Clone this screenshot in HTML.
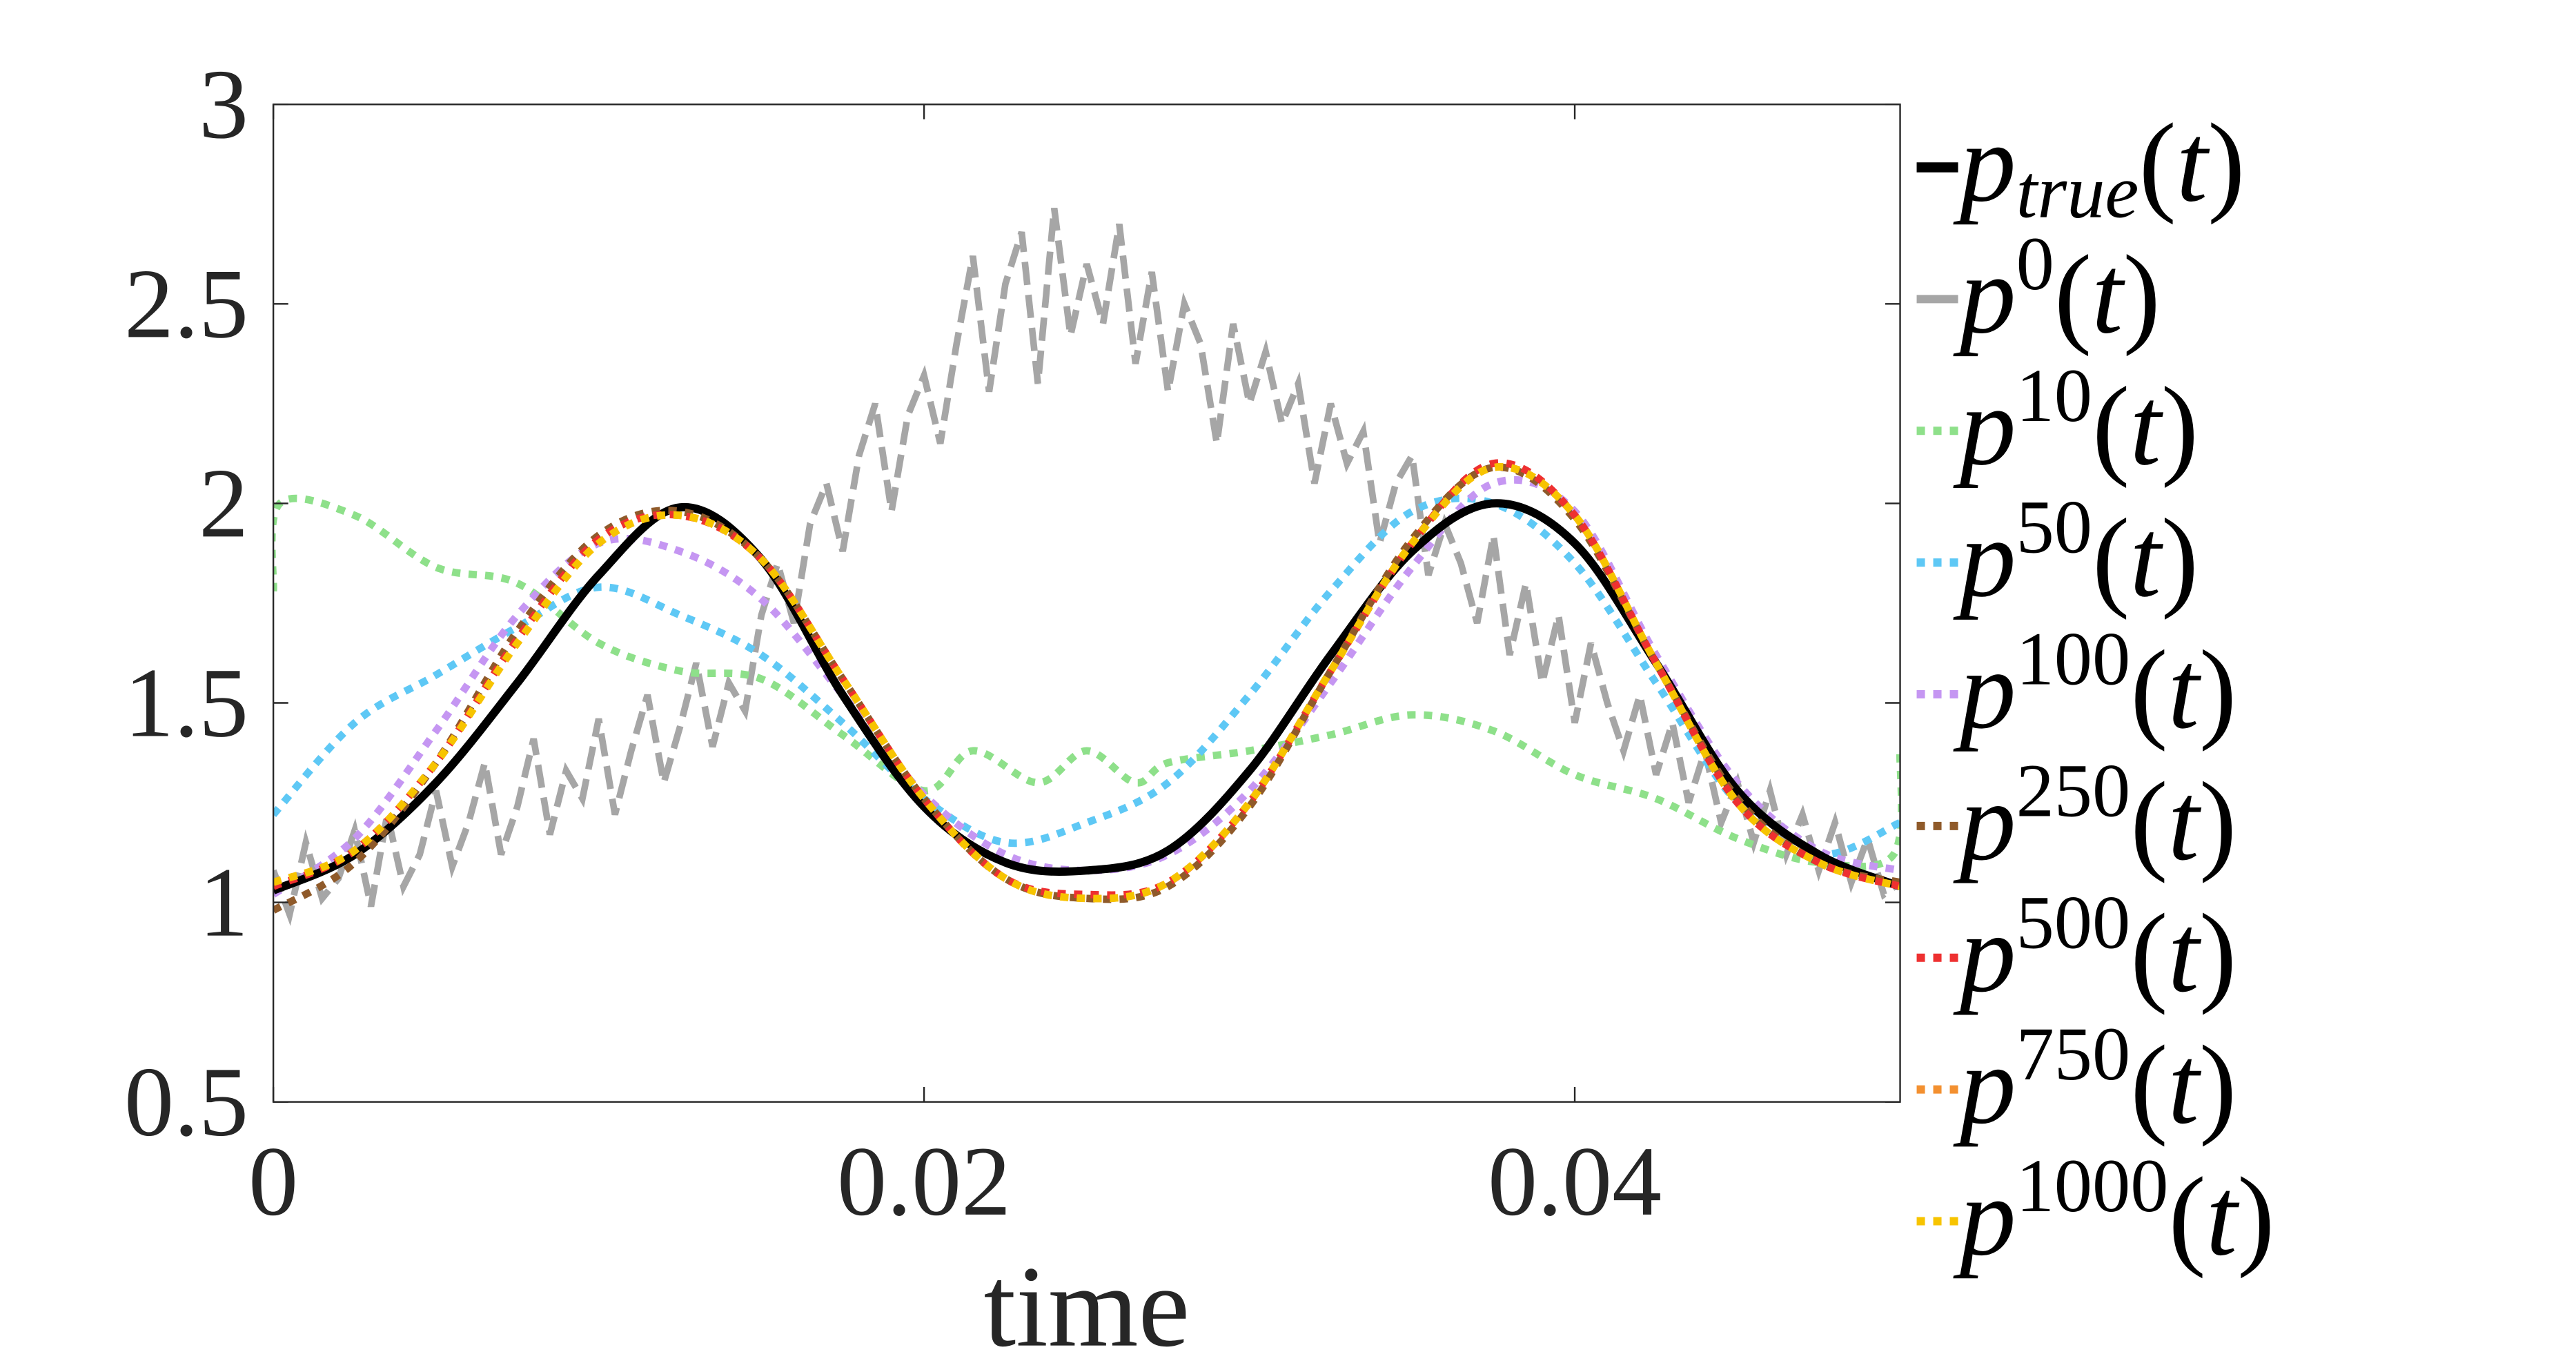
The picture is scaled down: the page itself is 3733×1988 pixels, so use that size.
<!DOCTYPE html>
<html><head><meta charset="utf-8"><style>
html,body{margin:0;padding:0;background:#fff;}
svg{display:block;}
text{font-family:"Liberation Serif",serif;fill:#262626;}
</style></head><body>
<svg id="chart" width="3733" height="1988" viewBox="0 0 1555 828" preserveAspectRatio="none" xmlns="http://www.w3.org/2000/svg">
<g id="plot"></g>
<g id="axes"></g>
<g id="legend"></g>
</svg>
<script>
const xTicks=[0,0.02,0.04];
const xTickLabels=["0","0.02","0.04"];
const yTicks=[0.5,1,1.5,2,2.5,3];
const yTickLabels=["0.5","1","1.5","2","2.5","3"];
const tSmooth=[0,0.0025,0.005,0.0075,0.01,0.0125,0.015,0.0175,0.02,0.0225,0.025,0.0275,0.03,0.0325,0.035,0.0375,0.04,0.0425,0.045,0.0475,0.05];
const pTrue=[1.03,1.12,1.30,1.55,1.82,1.99,1.86,1.52,1.24,1.10,1.08,1.13,1.33,1.62,1.88,2.0,1.90,1.60,1.28,1.12,1.04];
const p1000=[1.05,1.13,1.35,1.65,1.90,1.97,1.86,1.56,1.26,1.06,1.01,1.05,1.25,1.58,1.90,2.09,1.97,1.60,1.25,1.10,1.04];
const p750=[1.05,1.13,1.35,1.65,1.90,1.97,1.86,1.56,1.26,1.06,1.01,1.05,1.25,1.58,1.90,2.09,1.97,1.60,1.25,1.10,1.04];
const p500=[1.04,1.13,1.35,1.66,1.91,1.97,1.86,1.56,1.26,1.06,1.02,1.05,1.25,1.58,1.90,2.10,1.97,1.60,1.25,1.10,1.04];
const p250=[0.98,1.10,1.35,1.68,1.92,1.98,1.86,1.56,1.26,1.06,1.01,1.04,1.24,1.58,1.91,2.09,1.96,1.60,1.26,1.10,1.05];
const p100=[1.02,1.16,1.43,1.72,1.90,1.88,1.76,1.52,1.27,1.12,1.08,1.12,1.28,1.55,1.84,2.05,1.98,1.62,1.30,1.13,1.08];
const p50=[1.22,1.45,1.57,1.69,1.79,1.72,1.62,1.45,1.26,1.15,1.20,1.30,1.52,1.78,1.98,2.00,1.85,1.55,1.25,1.12,1.20];
const t10=[0,0.0002,0.0025,0.005,0.0075,0.01,0.0125,0.015,0.0175,0.02,0.0215,0.0235,0.025,0.0265,0.0275,0.03,0.0325,0.035,0.0375,0.04,0.0425,0.045,0.0475,0.0498,0.05];
const p10=[1.78,2.0,1.97,1.84,1.80,1.65,1.58,1.56,1.42,1.28,1.38,1.30,1.38,1.30,1.35,1.38,1.42,1.47,1.43,1.32,1.26,1.16,1.10,1.12,1.38];
const p0=[1.08,0.97,1.15,1.01,1.06,1.18,0.99,1.22,1.04,1.12,1.28,1.09,1.20,1.35,1.12,1.24,1.41,1.17,1.33,1.26,1.46,1.22,1.38,1.52,1.30,1.44,1.60,1.39,1.55,1.48,
1.72,1.85,1.70,1.95,2.05,1.88,2.12,2.25,1.98,2.22,2.32,
2.15,2.40,2.62,2.28,2.55,2.68,2.30,2.74,2.42,2.60,
2.45,2.70,2.35,2.58,2.28,2.50,2.40,2.15,2.45,2.25,
2.38,2.20,2.30,2.05,2.25,2.10,2.18,1.90,2.05,2.12,
1.82,1.95,1.85,1.70,1.92,1.62,1.80,1.55,1.72,1.45,
1.65,1.50,1.38,1.52,1.32,1.45,1.25,1.38,1.20,1.30,1.15,1.28,1.12,1.22,1.08,1.20,1.05,1.16,1.02,1.05];
const NS="http://www.w3.org/2000/svg";
const X0=165,X1=1147,Y0=665,Y1=63;
function sx(t){return X0+(t-0)/(0.05-0)*(X1-X0);}
function sy(v){return Y0-(v-0.5)/(3-0.5)*(Y0-Y1);}
function mk(tag,attrs,parent){const e=document.createElementNS(NS,tag);for(const k in attrs)e.setAttribute(k,attrs[k]);parent.appendChild(e);return e;}
const plot=document.getElementById('plot'),axes=document.getElementById('axes'),legend=document.getElementById('legend');
function pathD(ts,vs){return ts.map((t,i)=>(i?'L':'M')+sx(t).toFixed(2)+','+sy(vs[i]).toFixed(2)).join(' ');}
function smooth(ts,vs){
 let d='M'+sx(ts[0])+','+sy(vs[0]);
 for(let i=0;i<ts.length-1;i++){
  const p0=[sx(ts[Math.max(i-1,0)]),sy(vs[Math.max(i-1,0)])],p1=[sx(ts[i]),sy(vs[i])],p2=[sx(ts[i+1]),sy(vs[i+1])],p3=[sx(ts[Math.min(i+2,ts.length-1)]),sy(vs[Math.min(i+2,ts.length-1)])];
  const c1=[p1[0]+(p2[0]-p0[0])/6,p1[1]+(p2[1]-p0[1])/6],c2=[p2[0]-(p3[0]-p1[0])/6,p2[1]-(p3[1]-p1[1])/6];
  d+=' C'+c1.join(',')+' '+c2.join(',')+' '+p2.join(',');
 }
 return d;
}
const t0=p0.map((_,i)=>i*0.05/(p0.length-1));
const series=[
 {name:'p0-line',ts:t0,vs:p0,color:'#a6a6a6',w:4,dash:'14 6',smooth:false},
 {name:'p10-line',ts:t10,vs:p10,color:'#8ee08a',w:4.5,dash:'5 5',smooth:true},
 {name:'p50-line',ts:tSmooth,vs:p50,color:'#5ec8f5',w:4.5,dash:'5 5',smooth:true},
 {name:'p100-line',ts:tSmooth,vs:p100,color:'#c596f2',w:4.5,dash:'5 5',smooth:true},
 {name:'p-true-line',ts:tSmooth,vs:pTrue,color:'#000',w:5,dash:'',smooth:true},
 {name:'p250-line',ts:tSmooth,vs:p250,color:'#8f5a2a',w:4.5,dash:'5 5',smooth:true},
 {name:'p500-line',ts:tSmooth,vs:p500,color:'#ee3030',w:4.5,dash:'5 5',smooth:true},
 {name:'p750-line',ts:tSmooth,vs:p750,color:'#f39030',w:4.5,dash:'5 5',smooth:true},
 {name:'p1000-line',ts:tSmooth,vs:p1000,color:'#f7c400',w:4.5,dash:'5 5',smooth:true}
];
const clip=mk('clipPath',{id:'cp'},plot);mk('rect',{x:X0,y:Y1,width:X1-X0,height:Y0-Y1},clip);
series.forEach(s=>{
 const p=mk('path',{d:s.smooth?smooth(s.ts,s.vs):pathD(s.ts,s.vs),fill:'none',stroke:s.color,'stroke-width':s.w,'stroke-dasharray':s.dash,'clip-path':'url(#cp)'},plot);
 
 
});
const box=mk('rect',{x:X0,y:Y1,width:X1-X0,height:Y0-Y1,fill:'none',stroke:'#262626','stroke-width':1},axes);


xTicks.forEach((v,i)=>{
 mk('line',{x1:sx(v),x2:sx(v),y1:Y0,y2:Y0-9,stroke:'#262626','stroke-width':1},axes);
 mk('line',{x1:sx(v),x2:sx(v),y1:Y1,y2:Y1+9,stroke:'#262626','stroke-width':1},axes);
 const t=mk('text',{x:sx(v),y:733,'font-size':60,'text-anchor':'middle'},axes);
 t.textContent=xTickLabels[i];
 
 
});
yTicks.forEach((v,i)=>{
 mk('line',{x1:X0,x2:X0+9,y1:sy(v),y2:sy(v),stroke:'#262626','stroke-width':1},axes);
 mk('line',{x1:X1,x2:X1-9,y1:sy(v),y2:sy(v),stroke:'#262626','stroke-width':1},axes);
 const t=mk('text',{x:150,y:sy(v)+20,'font-size':60,'text-anchor':'end'},axes);
 t.textContent=yTickLabels[i];
 
 
});
const xt=mk('text',{x:656,y:812,'font-size':70,'text-anchor':'middle'},axes);
xt.textContent='time';


const legItems=[
 {sub:'true',sup:'',color:'#000',dash:'',w:6},
 {sub:'',sup:'0',color:'#a6a6a6',dash:'',w:5},
 {sub:'',sup:'10',color:'#8ee08a',dash:'5 5',w:5},
 {sub:'',sup:'50',color:'#5ec8f5',dash:'5 5',w:5},
 {sub:'',sup:'100',color:'#c596f2',dash:'5 5',w:5},
 {sub:'',sup:'250',color:'#8f5a2a',dash:'5 5',w:5},
 {sub:'',sup:'500',color:'#ee3030',dash:'5 5',w:5},
 {sub:'',sup:'750',color:'#f39030',dash:'5 5',w:5},
 {sub:'',sup:'1000',color:'#f7c400',dash:'5 5',w:5}
];
legItems.forEach((it,i)=>{
 const cy=101+i*79.5;
 const g=mk('g',{},legend);
 
 
 mk('line',{x1:1157,x2:1182,y1:cy,y2:cy,stroke:it.color,'stroke-width':it.w,'stroke-dasharray':it.dash},g);
 const t=mk('text',{x:1183,y:cy+20,'font-size':68,fill:'#000'},g);
 t.style.fill='#000';
 let h='<tspan font-style="italic">p</tspan>';
 if(it.sub)h+='<tspan font-style="italic" font-size="46" dy="10">'+it.sub+'</tspan><tspan dy="-10">(</tspan>';
 else h+='<tspan font-size="46" dy="-26">'+it.sup+'</tspan><tspan dy="26">(</tspan>';
 h+='<tspan font-style="italic">t</tspan>)';
 t.innerHTML=h;
});
</script>
</body></html>
